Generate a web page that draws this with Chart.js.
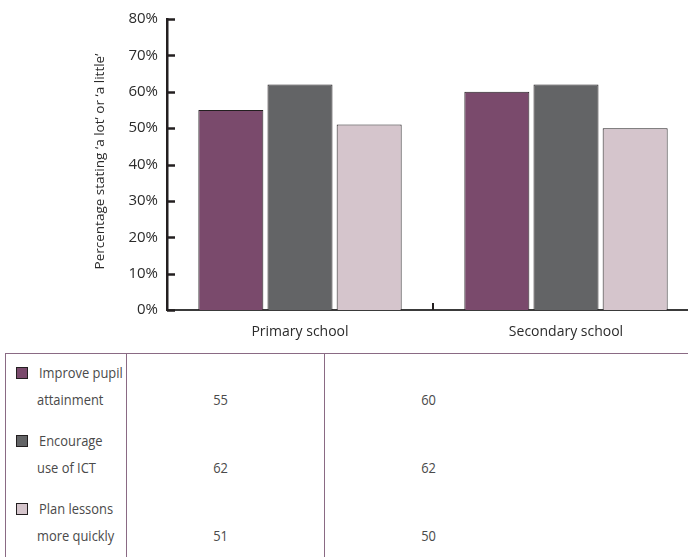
<!DOCTYPE html>
<html>
<head>
<meta charset="utf-8">
<script src="https://cdn.jsdelivr.net/npm/chart.js@4.4.0/dist/chart.umd.min.js"></script>
<style>
  html, body { margin: 0; padding: 0; background: #fff; overflow: hidden; }
  body { width: 688px; height: 557px; position: relative; font-family: "Open Sans", sans-serif; }
  #chart-wrap { position: absolute; left: 0; top: 0; width: 699px; height: 350px; }
  #data-table { position: absolute; left: 5px; top: 353px; width: 721px; border-collapse: collapse; color: #4a4a4a; font-size: 15px; table-layout: fixed; }
  #data-table td { border-left: 1.5px solid #8a6a84; border-top: 1.5px solid #8a6a84; height: 68px; padding: 0; vertical-align: top; white-space: nowrap; overflow: hidden; }
  #data-table td.name { width: 120px; }
  #data-table td.col-1 { width: 196px; }
  #data-table td.col-2 { width: 400px; }
  #data-table td.col-1 .cell-in { width: 186px; text-align: center; }
  #data-table td.col-2 .cell-in { width: 208px; text-align: center; }
  #data-table tr + tr td { border-top: none; }
  .line { line-height: 27px; }
  .txt { display: inline-block; transform: scaleX(0.86); transform-origin: left center; }
  .num { display: inline-block; transform: scaleX(0.86); transform-origin: center center; }
  .swatch { display: inline-block; width: 10px; height: 10px; border: 1px solid #231f20; margin: 0 11px 0 10px; vertical-align: -1px; }
  .cell-in { padding-top: 5px; }
</style>
</head>
<body>
<div id="chart-wrap"><canvas id="bar-chart"></canvas></div>
<table id="data-table"></table>
<script>
// Chart values
const categories = ["Primary school", "Secondary school"];
const series_names = [["Improve pupil", "attainment"], ["Encourage", "use of ICT"], ["Plan lessons", "more quickly"]];
const improve_attainment = [55, 60];
const encourage_ict = [62, 62];
const plan_quickly = [51, 50];
const y_ticks = [0, 10, 20, 30, 40, 50, 60, 70, 80];
const y_title = "Percentage stating \u2018a lot\u2019 or \u2018a little\u2019";

const series_values = [improve_attainment, encourage_ict, plan_quickly];
const series_colours = ["#7a4a6c", "#636466", "#d5c5cc"];

// Draws the short tick marks on the inside of the axes, and the y title
const inner_ticks = {
    id: "inner_ticks",
    afterDraw(chart) {
        const ctx = chart.ctx;
        const x = chart.scales.x;
        const y = chart.scales.y;
        ctx.save();
        ctx.strokeStyle = "#231f20";
        ctx.lineWidth = 2.5;
        y_ticks.forEach((v) => {
            const py = Math.round(y.getPixelForValue(v)) + 0.5;
            ctx.beginPath();
            ctx.moveTo(x.left, py);
            ctx.lineTo(x.left + 8, py);
            ctx.stroke();
        });
        // tick between the two groups
        const mid = (x.getPixelForTick(0) + x.getPixelForTick(1)) / 2;
        ctx.lineWidth = 2;
        ctx.beginPath();
        ctx.moveTo(mid, y.bottom);
        ctx.lineTo(mid, y.bottom - 7);
        ctx.stroke();

        // rotated axis title
        ctx.translate(100, (y.top + y.bottom) / 2 - 3);
        ctx.rotate(-Math.PI / 2);
        ctx.fillStyle = "#2b2b2b";
        ctx.font = "13.5px 'Open Sans'";
        ctx.textAlign = "center";
        ctx.textBaseline = "middle";
        ctx.fillText(y_title, 0, 0);
        ctx.restore();
    }
};

const ctx = document.getElementById("bar-chart").getContext("2d");
const config = {
    type: "bar",
    data: {
        labels: categories,
        datasets: series_values.map((values, i) => ({
            label: series_names[i].join(" "),
            data: values,
            backgroundColor: series_colours[i],
            borderColor: "#231f20",
            borderWidth: 1,
            categoryPercentage: 0.78,
            barPercentage: 0.94
        }))
    },
    options: {
        responsive: true,
        maintainAspectRatio: false,
        animation: false,
        layout: { padding: { top: 19, right: 0, left: 0, bottom: 0 } },
        plugins: { legend: { display: false }, tooltip: { enabled: false } },
        scales: {
            x: {
                grid: { display: false, drawTicks: false },
                border: { display: true, color: "#3a3a3a", width: 2 },
                ticks: { color: "#2b2b2b", padding: 14, font: { family: "Open Sans", size: 14 } },
                afterFit: (scale) => { scale.height = 40; }
            },
            y: {
                min: 0,
                max: 80,
                grid: { display: false, drawTicks: false },
                border: { display: true, color: "#231f20", width: 2.5 },
                afterBuildTicks: (scale) => { scale.ticks = y_ticks.map((v) => ({ value: v })); },
                ticks: {
                    color: "#2b2b2b",
                    padding: 9,
                    font: { family: "Open Sans", size: 15 },
                    callback: (v) => v + "%"
                },
                afterFit: (scale) => { scale.width = 167; }
            }
        }
    },
    plugins: [inner_ticks]
};
const bar_chart = new Chart(ctx, config);

// Data table below the chart, built from the same arrays
const table = document.getElementById("data-table");
series_names.forEach((name, i) => {
    const row = document.createElement("tr");
    const name_cell = document.createElement("td");
    name_cell.className = "name";
    name_cell.innerHTML = '<div class="cell-in"><div class="line"><span class="swatch" style="background:' +
        series_colours[i] + '"></span><span class="txt">' + name[0] + '</span></div>' +
        '<div class="line" style="padding-left:31px"><span class="txt">' + name[1] + '</span></div></div>';
    row.appendChild(name_cell);
    series_values[i].forEach((v, j) => {
        const cell = document.createElement("td");
        cell.className = "val col-" + (j + 1);
        cell.innerHTML = '<div class="cell-in"><div class="line">&nbsp;</div><div class="line"><span class="num">' + v + '</span></div></div>';
        row.appendChild(cell);
    });
    table.appendChild(row);
});
</script>
</body>
</html>
